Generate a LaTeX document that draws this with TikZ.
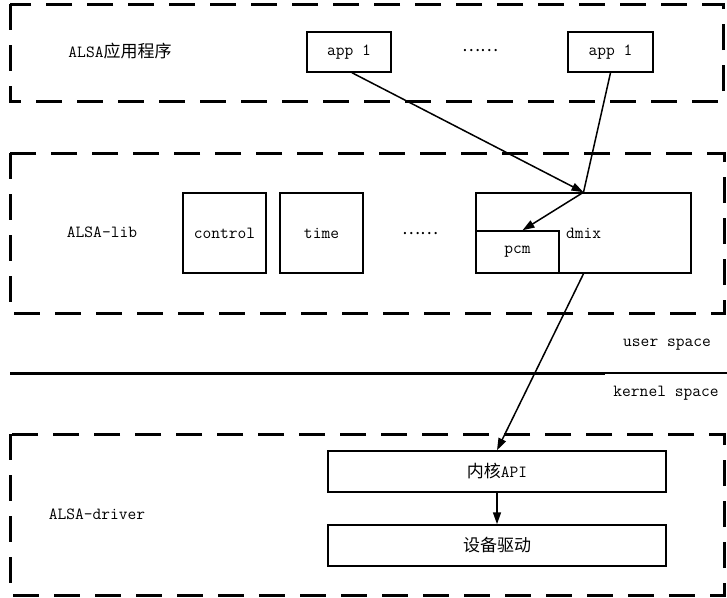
\documentclass[tikz,border=0pt]{standalone}
\usepackage{fontspec}
\newfontfamily\cjk{Noto Sans CJK SC}
\usetikzlibrary{arrows.meta,calc}
\newcommand{\zh}[1]{{\cjk\fontsize{17}{20}\selectfont #1}}
\tikzset{
  layer/.style={draw, line width=3pt, dash pattern=on 26pt off 15pt},
  box/.style={draw, line width=1.5pt, inner sep=0pt, font=\ttfamily\fontsize{17}{20}\selectfont},
  lbl/.style={inner sep=0pt, font=\ttfamily\fontsize{17}{20}\selectfont},
  conn/.style={line width=1.5pt},
  arr/.style={conn, -{Triangle[length=12pt,width=8pt]}}
}
\begin{document}
\begin{tikzpicture}[x=1pt,y=-1pt]
\useasboundingbox (0,0) rectangle (727,597);
% layers
\draw[layer] (10,4) rectangle (723,101);
\draw[layer] (10,153) rectangle (724,313);
\draw[layer] (10,434) rectangle (724,595);
% divider
\coordinate (dl) at (10,373);
\coordinate (dm) at (605,373);
\coordinate (dr) at (727,373);
\draw[line width=3pt] (dl) -- (dm);
\draw[line width=1.5pt] (dm) -- (dr);
\node[lbl] (us) at (667,345) {user space};
\node[lbl] (ks) at (666,393) {kernel space};
% layer 1
\node[lbl] (t1) at (120,51) {ALSA\zh{应用程序}};
\node[box, minimum width=84pt, minimum height=40pt] (appL) at (349,52) {app 1};
\node[box, minimum width=85pt, minimum height=40pt] (appR) at (610.5,52) {app 1};
\node[lbl] (dots1) at (480,51) {\zh{……}};
% layer 2
\node[lbl] (t2) at (102,232) {ALSA-lib};
\node[box, minimum width=83pt, minimum height=80pt] (control) at (224.5,233) {control};
\node[box, minimum width=83pt, minimum height=80pt] (time) at (321.5,233) {time};
\node[lbl] (dots2) at (420,234) {\zh{……}};
\node[box, minimum width=215pt, minimum height=80pt] (dmix) at (583.5,233) {dmix};
\node[box, minimum width=83pt, minimum height=42pt, fill=white] (pcm) at (517.5,252) {pcm};
% layer 3
\node[lbl] (t3) at (97,514) {ALSA-driver};
\node[box, minimum width=338pt, minimum height=41pt] (api) at (497,471.5) {\zh{内核}API};
\node[box, minimum width=338pt, minimum height=41pt] (drv) at (497,545.5) {\zh{设备驱动}};
% connectors
\draw[arr] ([xshift=3pt]appL.south) -- (dmix.north);
\draw[conn] (appR.south) -- (dmix.north);
\draw[arr] (dmix.north) -- ([xshift=5pt]pcm.north);
\draw[arr] (dmix.south) -- (api.north);
\draw[arr] (api.south) -- (drv.north);
\end{tikzpicture}
\end{document}
